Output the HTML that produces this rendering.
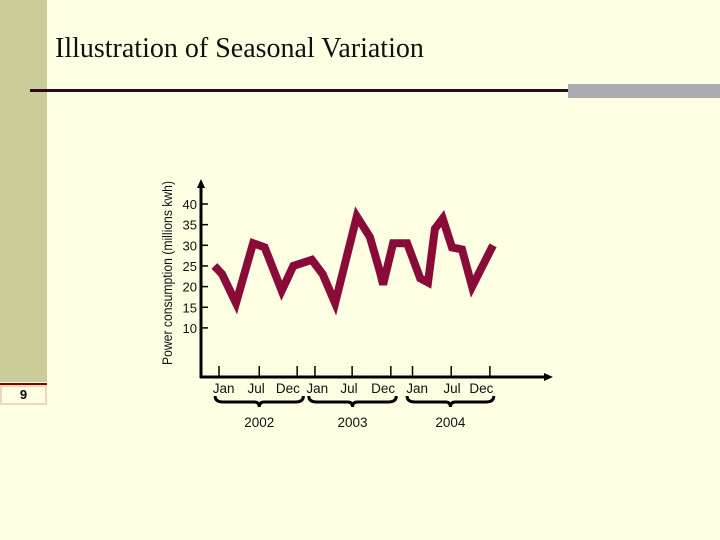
<!DOCTYPE html>
<html><head><meta charset="utf-8"><style>
html,body{margin:0;padding:0}
body{width:720px;height:540px;background:#ffffe3;position:relative;overflow:hidden;font-family:"Liberation Sans",sans-serif}
#sidebar{position:absolute;left:0;top:0;width:47px;height:382px;background:#cccc99}
#pagenum{position:absolute;left:0;top:383px;width:47px;height:22px;border-top:2px solid #800000;box-sizing:border-box;background:#ffffe3;box-shadow:inset 0 0 0 2px #f3d6b8;text-align:center;font:bold 13px "Liberation Sans",sans-serif;line-height:20px}
#title{position:absolute;left:55px;top:33px;font:28px "Liberation Serif",serif;color:#111;white-space:nowrap}
#rule{position:absolute;left:30px;top:89px;width:540px;height:3px;background:#2a0a22}
#greybar{position:absolute;left:568px;top:84px;width:152px;height:14px;background:#ababb0}
svg{position:absolute;left:0;top:0}
</style></head><body>
<div id="sidebar"></div>
<div id="pagenum">9</div>
<div id="title">Illustration of Seasonal Variation</div>
<div id="rule"></div>
<div id="greybar"></div>
<svg id="chart" width="720" height="540"></svg>
<script>
const monthPos=[-0.6,0.4,2.2,4.4,5.9,8.1,9.6,12,13.4,15,17.8,19.5,20.8,21.2,22.5,24.3,26,27,27.9,28.9,30.1,31.4,32.7,35.4];
const values=[25,23,16,30.5,29.5,19,25,26.5,23,16,37,32,23.5,20.5,30.5,30.5,22,21,34,36.5,29.5,29,20,30];
const yTicks=[10,15,20,25,30,35,40];
const xTickMonths=[0,5.2,10.1,12.4,17.2,22.2,25,30,35];
const xLabelMonths=[0.6,4.8,8.9,12.7,16.8,21.2,25.6,30.1,33.9];
const xTickLabels=["Jan","Jul","Dec","Jan","Jul","Dec","Jan","Jul","Dec"];
const years=["2002","2003","2004"];
const yearSpans=[[-0.5,10.9],[11.6,22.9],[24.3,35.5]];
const NS="http://www.w3.org/2000/svg";
const svg=document.getElementById('chart');
const X=m=>219+m*7.74;
const Y=v=>204+(40-v)*4.13;
function mk(t,a,p){const e=document.createElementNS(NS,t);for(const k in a)e.setAttribute(k,a[k]);(p||svg).appendChild(e);return e;}
let ya=mk('line',{x1:201,y1:186,x2:201,y2:378,stroke:'#000','stroke-width':3});


let yar=mk('polygon',{points:'197,188 201,179 205,188',fill:'#000'});


let xa=mk('line',{x1:200,y1:377,x2:546,y2:377,stroke:'#000','stroke-width':3});


let xar=mk('polygon',{points:'544,373 553,377 544,381',fill:'#000'});


let yt=mk('text',{x:172,y:273,'font-size':13.5,fill:'#111','text-anchor':'middle',textLength:184,lengthAdjust:'spacingAndGlyphs',transform:'rotate(-90 172 273)'});
yt.textContent='Power consumption (millions kwh)';


yTicks.forEach(v=>{
  let l=mk('line',{x1:200,y1:Y(v),x2:208,y2:Y(v),stroke:'#000','stroke-width':1.5});
  
  
  let t=mk('text',{x:197,y:Y(v)+5,'font-size':13,fill:'#111','text-anchor':'end'});
  t.textContent=v;
  
  
});
xTickMonths.forEach((m,i)=>{
  let l=mk('line',{x1:X(m),y1:366,x2:X(m),y2:377,stroke:'#000','stroke-width':1.5});
  
  
  let t=mk('text',{x:X(xLabelMonths[i]),y:393,'font-size':13.5,fill:'#111','text-anchor':'middle'});
  t.textContent=xTickLabels[i];
  
  
});
years.forEach((yr,i)=>{
  const a=X(yearSpans[i][0]),b=X(yearSpans[i][1]),c=(a+b)/2;
  let p=mk('path',{d:`M${a},396 Q${a},402 ${a+8},402 L${c-5},402 Q${c},402 ${c},407 Q${c},402 ${c+5},402 L${b-8},402 Q${b},402 ${b},396`,fill:'none',stroke:'#000','stroke-width':3});
  
  
  let t=mk('text',{x:c,y:427,'font-size':13.5,fill:'#111','text-anchor':'middle'});
  t.textContent=yr;
  
  
});
let d=monthPos.map((m,i)=>(i?'L':'M')+X(m).toFixed(1)+','+Y(values[i]).toFixed(1)).join(' ');
let line=mk('path',{d:d,fill:'none',stroke:'#8a0a38','stroke-width':8,'stroke-linejoin':'miter','stroke-linecap':'butt'});


</script>
</body></html>
